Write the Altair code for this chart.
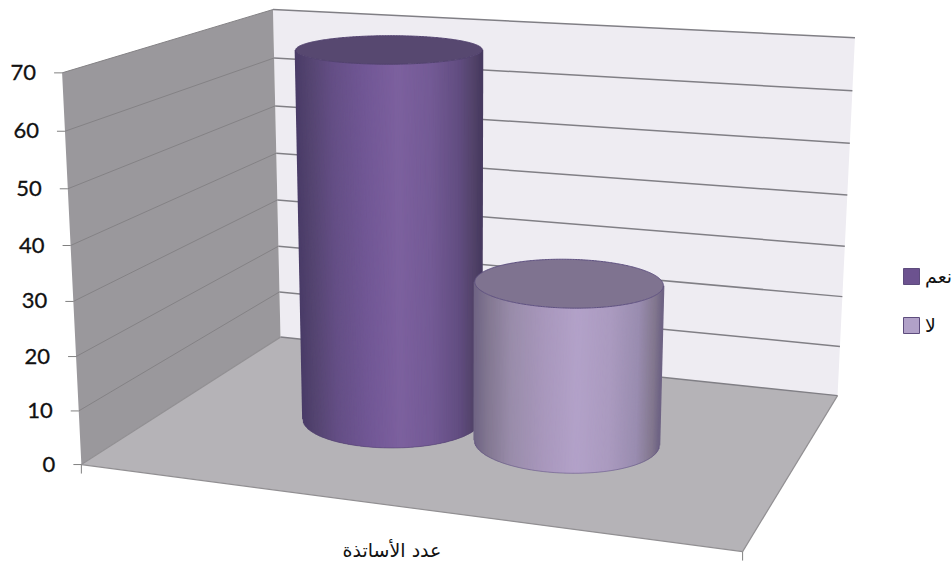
import altair as alt
import numpy as np
import pandas as pd

# Chart content
series_names = ["نعم", "لا"]
series_values = [70, 30]
series_across = [0.356, 0.649]
series_depth = [0.503, 0.485]
category_label = "عدد الأساتذة"
value_ticks = [0, 10, 20, 30, 40, 50, 60, 70]
value_max = 70

# Cylinder footprint: half-axes on the floor, in (across, depth) units
FOOT_A = (0.133, 0.067)
FOOT_B = (0.052, -0.186)

# Box corners (across, value share, depth) and where they land on the canvas
box_model = [(0, 0, 0), (0, 1, 0), (0, 0, 1), (0, 1, 1), (1, 0, 1), (1, 1, 1), (1, 0, 0)]
box_screen = [(82, 465), (62, 72), (280, 337), (273, 10), (838, 395), (855, 38), (742, 552)]

# Styling
BODY_STOPS = [-1.0, -0.85, -0.6, -0.25, 0.1, 0.45, 0.75, 0.92, 1.0]
BODY_SHADES = [
    ["#4a3c68", "#554571", "#654f86", "#725896", "#7d619f", "#745b96", "#634e82", "#524369", "#473a60"],
    ["#6f6484", "#837892", "#9a8dab", "#a998bd", "#b3a2c9", "#ab9bc0", "#9a8db0", "#83788f", "#6e6384"],
]
TOP_FILL = ["#574870", "#7f7390"]
TOP_EDGE = ["#52426f", "#5e5080"]
LEGEND_FILL = ["#6c528f", "#b1a1c8"]
LEGEND_EDGE = ["#5d4c7d", "#6f6092"]
WALL_BACK = "#eeecf2"
WALL_SIDE = "#9a989c"
FLOOR = "#b5b3b7"
GRID_BACK = "#807f85"
GRID_SIDE = "#848285"
EDGE = "#918f92"
FONT_NUM = "Lato"
FONT_AR = "DejaVu Sans"


def fit_camera(model, screen):
    rows = []
    for (a, b, c), (x, y) in zip(model, screen):
        rows.append([a, b, c, 1, 0, 0, 0, 0, -x * a, -x * b, -x * c, -x])
        rows.append([0, 0, 0, 0, a, b, c, 1, -y * a, -y * b, -y * c, -y])
    return np.linalg.svd(np.array(rows, dtype=float))[2][-1].reshape(3, 4)


CAMERA = fit_camera(box_model, box_screen)


def project(across, value, depth):
    a, v, d = np.broadcast_arrays(np.asarray(across, float), np.asarray(value, float) / value_max, np.asarray(depth, float))
    h = CAMERA @ np.stack([a.ravel(), v.ravel(), d.ravel(), np.ones(a.size)])
    return (h[0] / h[2]).reshape(a.shape), (h[1] / h[2]).reshape(a.shape)


X = alt.X("x:Q", scale=alt.Scale(domain=[0, 952]), axis=None)
Y = alt.Y("y:Q", scale=alt.Scale(domain=[562, 0]), axis=None)


def polygon(xs, ys, fill):
    """Filled convex outline, drawn as an area between its upper and lower edges."""
    xs, ys = np.asarray(xs, float), np.asarray(ys, float)
    nx, ny = np.roll(xs, -1), np.roll(ys, -1)
    rows = []
    for c in np.unique(xs):
        hits = []
        for x0, y0, x1, y1 in zip(xs, ys, nx, ny):
            if min(x0, x1) <= c <= max(x0, x1):
                if x0 == x1:
                    hits += [y0, y1]
                else:
                    hits.append(y0 + (y1 - y0) * (c - x0) / (x1 - x0))
        rows.append({"x": c, "y": min(hits), "y2": max(hits)})
    return alt.Chart(pd.DataFrame(rows)).mark_area(color=fill, opacity=1, strokeWidth=0).encode(x=X, y=Y, y2="y2:Q")


def segments(rows, color, width):
    return alt.Chart(pd.DataFrame(rows)).mark_rule(color=color, strokeWidth=width).encode(x=X, y=Y, x2="x2:Q", y2="y2:Q")


def segment_row(p, q):
    return {"x": float(p[0]), "y": float(p[1]), "x2": float(q[0]), "y2": float(q[1])}


def cylinder(i):
    theta = np.linspace(0, 2 * np.pi, 1441)[:-1]
    u = series_across[i] + FOOT_A[0] * np.cos(theta) + FOOT_B[0] * np.sin(theta)
    d = series_depth[i] + FOOT_A[1] * np.cos(theta) + FOOT_B[1] * np.sin(theta)
    bx, by = project(u, 0, d)
    tx, ty = project(u, series_values[i], d)
    lo, hi = bx.argmin(), bx.argmax()
    chord = by[lo] + (by[hi] - by[lo]) * (bx - bx[lo]) / (bx[hi] - bx[lo])
    front = np.where(by >= chord)[0]
    front = front[np.argsort(bx[front])]
    # one shaded generator line per canvas pixel along the front of the body
    picks = np.unique(np.searchsorted(bx[front], np.arange(bx[lo], bx[hi] + 0.5, 0.8)).clip(0, len(front) - 1))
    idx = front[picks]
    s = 2 * (bx[idx] - bx[lo]) / (bx[hi] - bx[lo]) - 1
    channels = [np.interp(s, BODY_STOPS, [int(c[k:k + 2], 16) for c in BODY_SHADES[i]]) for k in (1, 3, 5)]
    colors = ["#%02x%02x%02x" % (int(r), int(g), int(b)) for r, g, b in zip(*channels)]
    body = pd.DataFrame({"x": bx[idx], "y": by[idx], "x2": tx[idx], "y2": ty[idx], "shade": colors})
    body_layer = alt.Chart(body).mark_rule(strokeWidth=2).encode(
        x=X, y=Y, x2="x2:Q", y2="y2:Q", stroke=alt.Stroke("shade:N", scale=None, legend=None))
    rim = pd.DataFrame({"x": bx[idx], "y": by[idx]})
    rim_layer = alt.Chart(rim).mark_line(color=TOP_EDGE[i], strokeWidth=0.8, opacity=0.7).encode(x=X, y=Y)
    top_layer = polygon(tx[::4], ty[::4], TOP_FILL[i])
    ring = pd.DataFrame({"x": np.r_[tx[::4], tx[0]], "y": np.r_[ty[::4], ty[0]], "o": np.arange(len(tx[::4]) + 1)})
    ring_layer = alt.Chart(ring).mark_line(color=TOP_EDGE[i], strokeWidth=1).encode(x=X, y=Y, order="o:Q")
    return [body_layer, rim_layer, top_layer, ring_layer]


layers = []

# Walls and floor of the box
bx, by = project([0, 1, 1, 0], value_max, 1)
b2x, b2y = project([1, 0], 0, 1)
layers.append(polygon([bx[0], bx[1], b2x[0], b2x[1]], [by[0], by[1], b2y[0], b2y[1]], WALL_BACK))
sx, sy = project(0, [0, value_max, value_max, 0], [0, 0, 1, 1])
layers.append(polygon(sx, sy, WALL_SIDE))
fx, fy = project([0, 1, 1, 0], 0, [0, 0, 1, 1])
layers.append(polygon(fx, fy, FLOOR))

# Gridlines on both walls
back_rows, side_rows, tick_rows = [], [], []
for v in value_ticks:
    p0, p1, p2 = project(0, v, 0), project(0, v, 1), project(1, v, 1)
    if v > 0:
        side_rows.append(segment_row(p0, p1))
    back_rows.append(segment_row(p1, p2))
    tick_rows.append(segment_row((p0[0] - 8, p0[1]), p0))
layers.append(segments(back_rows, GRID_BACK, 1.5))
layers.append(segments(side_rows, GRID_SIDE, 1))

# Floor and wall edges
edge_rows = [
    segment_row(project(0, 0, 0), project(1, 0, 0)),
    segment_row(project(1, 0, 0), project(1, 0, 1)),
    segment_row(project(0, 0, 0), project(0, 0, 1)),
]
for a in (0, 1):
    x0, y0 = project(a, 0, 0)
    tick_rows.append(segment_row((x0, y0), (x0, y0 + 9)))
layers.append(segments(edge_rows, EDGE, 1.2))
layers.append(segments(tick_rows, "#808080", 1))

# Cylinders, far one first
for i in range(len(series_values)):
    layers.extend(cylinder(i))

# Value labels
lx, ly = project(0, np.array(value_ticks, float), 0)
labels = pd.DataFrame({"x": lx - 26, "y": ly, "t": [str(v) for v in value_ticks]})
layers.append(alt.Chart(labels).mark_text(align="right", baseline="middle", font=FONT_NUM, fontSize=22, color="#111111",
                                          stroke="#111111", strokeWidth=0.3).encode(
    x=X, y=Y, text="t:N"))

# Category label
cat = pd.DataFrame({"x": [392], "y": [551], "t": [category_label]})
layers.append(alt.Chart(cat).mark_text(align="center", baseline="middle", font=FONT_AR, fontSize=19, color="#111111").encode(
    x=X, y=Y, text="t:N"))

# Legend, carried by zero-size points
lg_x, lg_y = project(series_across, 0, series_depth)
lg = pd.DataFrame({"x": lg_x, "y": lg_y, "name": series_names})
layers.append(alt.Chart(lg).mark_point(size=0, filled=True, shape="square").encode(
    x=X, y=Y,
    fill=alt.Fill("name:N", sort=series_names, scale=alt.Scale(domain=series_names, range=LEGEND_FILL),
                  legend=alt.Legend(orient="none", legendX=902, legendY=267, title=None, symbolType="square",
                                    symbolSize=256, symbolStrokeColor=LEGEND_EDGE[0], symbolStrokeWidth=1,
                                    labelFont=FONT_AR, labelFontSize=19, labelColor="#111111",
                                    rowPadding=28, labelOffset=4, padding=0, symbolOpacity=1))))

chart = alt.layer(*layers).properties(width=952, height=562, padding=0, autosize="none", background="white").configure_view(stroke=None)
chart.save("out.html", embed_options={"renderer": "svg", "actions": False})
